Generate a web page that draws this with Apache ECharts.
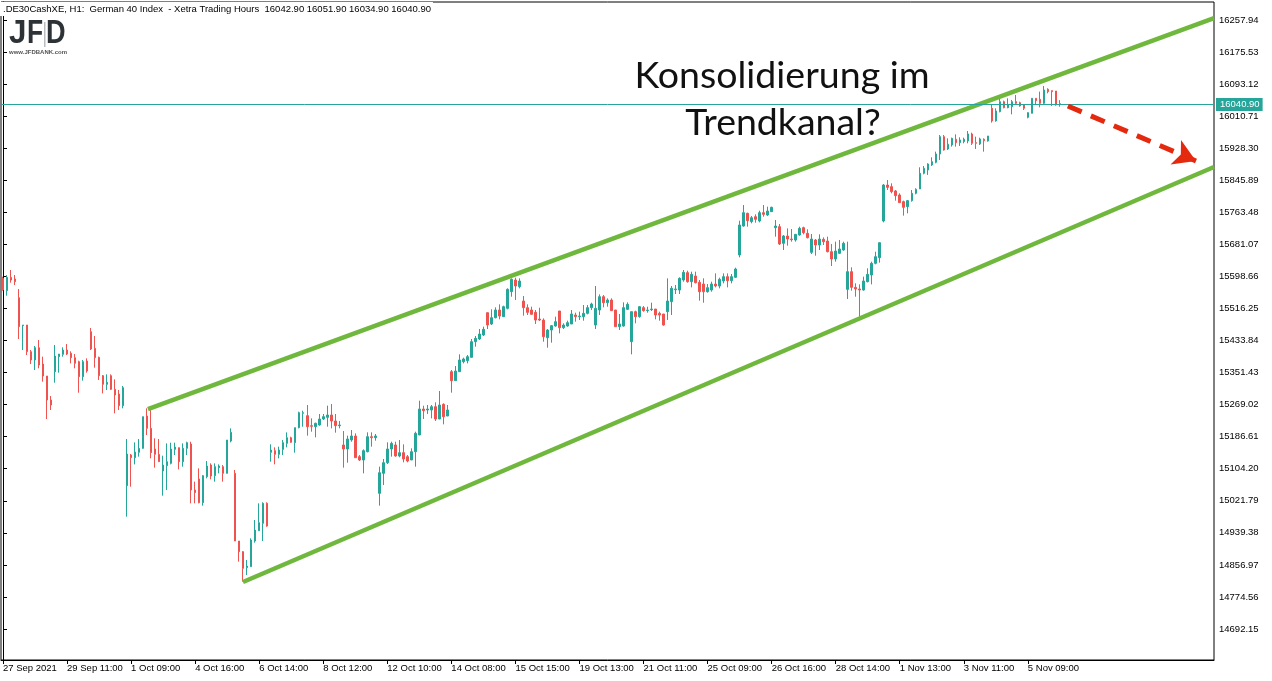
<!DOCTYPE html>
<html><head><meta charset="utf-8">
<script src="https://cdn.jsdelivr.net/npm/echarts@6/dist/echarts.min.js"></script>
<style>html,body{margin:0;padding:0;background:#fff}#c{width:1272px;height:681px}</style>
</head><body><div id="c"></div>
<script>
// ---- data (H1 candles) ----
const opens = [
15593.7,15562.0,15596.2,15592.0,15544.0,15472.0,15473.7,15405.1,15383.7,15415.4,
15373.4,15342.6,15280.9,15353.7,15392.3,15398.3,15409.4,15400.8,15389.7,15379.4,
15340.8,15381.1,15456.6,15413.7,15390.6,15343.4,15321.1,15343.4,15308.3,15296.3,
15266.3,15060.6,15139.4,15132.6,15146.3,15156.6,15239.7,15208.0,15154.9,15141.1,
15098.3,15112.0,15118.0,15154.0,15158.3,15122.3,15156.6,15167.7,15049.5,15077.8,
15016.9,15083.8,15113.7,15086.3,15106.9,15109.5,15092.3,15175.4,15092.3,14918.3,
14890.9,14849.8,14852.4,14918.3,14944.9,14963.8,15015.2,
15146.3,15150.6,15141.1,
15154.0,15169.4,15184.0,15171.2,15209.7,15246.6,15240.6,15214.9,15212.3,15216.6,
15232.0,15236.3,15242.3,15226.9,15214.9,15165.2,15154.9,15178.0,15188.3,15135.2,
15126.6,15148.0,15186.6,15184.0,15040.9,15092.3,15119.7,15154.9,15165.2,15136.9,
15145.5,15135.2,15126.6,15148.0,15190.9,15257.7,15255.2,15255.2,15263.7,15232.0,
15269.7,15239.7,15353.7,15330.6,15353.7,15379.4,15382.0,15390.6,15430.8,15437.7,
15448.0,15505.4,15476.3,15492.5,15512.3,15495.1,15516.5,15559.4,15589.4,15572.2,
15535.4,15518.2,15512.3,15506.2,15489.1,15486.5,15441.1,15460.8,15471.1,15509.7,
15466.8,15471.1,
15476.3,15499.4,15495.1,15495.1,15503.7,15518.3,15473.7,15512.3,
15546.5,15531.1,15538.0,15512.3,15469.4,15471.1,15514.0,15430.9,15508.0,15495.1,
15518.3,15510.6,15513.1,15514.8,15503.7,15502.0,15508.0,15533.7,15564.5,15563.7,
15589.4,15608.3,15585.1,15599.7,15583.4,15579.1,15559.4,15563.7,15579.1,15574.0,
15586.8,15598.0,15587.7,15596.3,15653.7,15728.2,15760.8,15739.4,15752.2,15741.1,
15762.5,15756.5,15765.1,15724.0,15726.5,15683.7,15702.5,15694.8,15692.2,15705.1,
15724.0,15709.4,15660.5,15692.2,15679.4,15694.0,15689.7,15662.2,15643.4,15658.0,
15666.5,15565.4,15610.8,15570.5,15566.3,15563.7,15585.1,15602.3,15632.3,15646.8,
15741.1,15833.6,
15829.5,15818.3,15808.0,15790.9,15778.0,15793.5,15812.3,15823.5,
15863.7,15872.3,15885.2,15892.0,15913.4,15958.0,15926.3,15936.6,15951.2,15942.6,
15945.2,15946.9,15964.9,15942.6,15939.2,15951.2,15946.9,16030.9,15998.3,16022.3,
16048.0,16032.6,16035.1,16048.0,16045.4,16039.4,16007.7,16018.0,16056.6,16054.0,
16043.7,16079.7,16076.3,16075.4,16042.9
];
const highs = [
15598.0,15602.2,15615.1,15602.2,15566.2,15473.7,15473.7,15409.4,15419.7,15435.1,
15392.3,15342.6,15291.1,15422.3,15399.1,15416.3,15424.8,15406.0,15399.1,15382.0,
15383.7,15388.0,15466.0,15445.4,15392.3,15345.1,15346.8,15346.8,15334.0,15306.6,
15316.9,15180.6,15142.0,15172.0,15180.6,15238.0,15259.5,15263.7,15182.3,15180.6,
15137.7,15169.4,15171.2,15171.2,15158.3,15169.4,15173.7,15173.7,15070.9,15105.2,
15088.0,15124.0,15118.0,15118.0,15115.4,15113.7,15178.0,15208.0,15100.9,14918.3,
14892.6,14869.5,14925.2,14972.3,15015.2,15017.8,15017.8,
15166.9,15159.2,15160.9,
15178.0,15197.7,15186.6,15209.7,15250.9,15253.4,15268.0,15233.7,15222.6,15244.9,
15244.9,15266.3,15270.6,15244.9,15226.9,15201.1,15189.2,15203.7,15195.2,15139.4,
15154.0,15197.7,15197.7,15193.4,15109.5,15129.2,15172.0,15173.7,15173.7,15178.0,
15166.9,15139.4,15156.6,15199.4,15279.1,15266.3,15268.0,15268.0,15274.9,15304.0,
15272.3,15268.0,15358.0,15368.3,15398.3,15389.7,15396.6,15437.7,15445.4,15463.4,
15469.4,15505.4,15514.0,15519.1,15526.8,15523.4,15568.0,15593.7,15595.4,15593.7,
15548.2,15526.8,15520.8,15512.3,15518.2,15490.8,15463.4,15473.7,15495.1,15509.7,
15478.0,15484.8,
15512.3,15505.4,15508.0,15525.1,15525.1,15531.1,15574.0,15552.5,
15550.8,15542.3,15542.3,15512.3,15502.0,15532.0,15532.0,15508.0,15510.6,15522.5,
15522.5,15520.8,15531.1,15514.8,15508.0,15502.0,15593.7,15574.0,15576.5,15596.3,
15615.1,15613.4,15610.8,15610.8,15589.4,15593.7,15579.1,15585.1,15606.5,15595.4,
15606.5,15606.5,15604.8,15621.1,15741.9,15782.2,15762.5,15754.0,15758.2,15767.7,
15782.2,15778.0,15778.0,15743.7,15733.4,15705.1,15722.2,15720.5,15707.7,15726.5,
15726.5,15719.7,15707.7,15694.8,15706.8,15699.1,15700.8,15682.0,15688.0,15692.2,
15688.0,15688.0,15622.0,15580.8,15578.2,15598.0,15619.4,15636.5,15662.2,15685.4,
15836.2,15846.5,
15838.0,15820.9,15812.3,15793.5,15795.2,15820.9,15825.2,15879.2,
15882.6,15889.5,15904.9,15919.4,15962.3,15962.3,15953.7,15955.4,15964.0,15956.3,
15955.4,15972.6,15968.3,15958.0,15955.4,15953.7,15959.7,16041.1,16030.9,16056.6,
16050.6,16056.6,16052.3,16065.1,16048.0,16041.1,16020.6,16056.6,16056.6,16073.7,
16088.3,16082.3,16076.3,16075.4,16051.9
];
const lows = [
15562.0,15549.1,15582.5,15576.5,15437.7,15409.4,15396.6,15373.4,15358.0,15362.3,
15328.0,15232.0,15255.2,15325.4,15351.1,15392.3,15396.6,15375.1,15362.3,15299.7,
15330.6,15351.1,15409.4,15364.0,15332.3,15298.0,15306.6,15306.6,15246.6,15255.2,
15259.5,14980.9,15058.0,15115.4,15135.2,15155.7,15190.9,15130.9,15106.9,15122.3,
15034.9,15049.5,15115.4,15139.4,15102.6,15109.5,15139.4,15015.2,15015.2,15015.2,
15009.2,15079.5,15076.9,15070.9,15092.3,15070.9,15092.3,15172.0,14918.3,14865.2,
14813.8,14830.9,14852.4,14914.0,14944.9,14918.3,14955.2,
15122.3,15115.4,15130.9,
15139.4,15159.2,15171.2,15145.5,15208.0,15212.3,15189.2,15199.4,15184.9,15214.9,
15229.4,15212.3,15208.0,15196.9,15208.0,15106.9,15119.7,15173.7,15132.6,15124.0,
15092.3,15146.3,15160.9,15176.3,15009.2,15062.3,15116.3,15135.2,15135.2,15133.5,
15120.6,15120.6,15126.6,15109.5,15190.9,15232.0,15244.9,15233.7,15226.9,15232.0,
15218.3,15239.7,15299.7,15330.6,15353.7,15375.1,15375.1,15390.6,15418.0,15435.1,
15445.4,15463.4,15473.7,15490.8,15488.3,15495.1,15514.0,15546.5,15538.0,15568.0,
15497.7,15499.4,15501.1,15476.3,15483.9,15430.8,15415.4,15428.3,15469.4,15452.3,
15463.4,15469.4,
15476.3,15482.3,15486.6,15484.8,15501.1,15512.3,15463.4,15499.4,
15519.1,15520.8,15510.6,15469.4,15460.9,15469.4,15512.3,15398.3,15478.0,15492.5,
15508.0,15505.4,15509.7,15488.3,15484.8,15472.0,15486.6,15499.4,15553.4,15553.4,
15585.1,15582.5,15570.5,15580.8,15536.3,15531.1,15556.8,15559.4,15570.5,15568.0,
15580.8,15570.5,15580.8,15595.4,15647.7,15726.5,15726.5,15735.1,15736.8,15737.7,
15752.2,15753.9,15765.1,15700.8,15679.4,15666.5,15677.7,15688.0,15688.0,15703.4,
15706.8,15696.5,15656.2,15651.9,15666.5,15679.4,15660.5,15625.4,15636.5,15656.2,
15664.8,15540.5,15562.0,15546.5,15495.1,15562.0,15583.4,15578.2,15629.7,15634.0,
15737.7,15820.8,
15812.3,15793.5,15788.3,15754.9,15760.9,15790.9,15809.7,15823.5,
15861.2,15859.5,15882.6,15889.5,15898.0,15922.0,15923.7,15932.3,15932.3,15934.0,
15940.9,15940.9,15936.6,15926.3,15936.6,15919.4,15945.2,15994.0,15996.6,16020.6,
16030.9,16030.9,16015.4,16039.4,16035.1,16026.6,16005.1,16018.0,16039.4,16033.4,
16042.0,16069.4,16036.9,16037.7,16034.9
];
const closes = [
15563.7,15596.2,15589.4,15585.1,15469.4,15473.7,15405.1,15383.7,15415.4,15370.8,
15342.6,15280.9,15268.0,15394.0,15399.1,15409.4,15399.1,15389.7,15375.1,15340.8,
15379.4,15355.4,15412.0,15389.7,15343.4,15321.1,15326.3,15308.3,15293.7,15266.3,
15312.6,15142.0,15132.6,15147.2,15156.6,15238.0,15208.0,15145.5,15141.1,15122.3,
15113.7,15122.3,15154.9,15160.0,15122.3,15156.6,15171.2,15049.5,15042.6,15016.9,
15086.3,15111.2,15085.5,15109.5,15111.2,15092.3,15178.0,15197.7,14918.3,14890.9,
14848.0,14854.0,14920.9,14946.6,14965.5,15015.2,14956.9,
15152.3,15141.1,15152.3,
15171.2,15184.0,15172.0,15209.7,15248.3,15248.3,15212.3,15213.2,15220.9,15232.0,
15238.0,15242.3,15226.9,15214.9,15216.6,15154.9,15180.6,15188.3,15132.6,15126.6,
15150.6,15186.6,15184.0,15188.3,15094.0,15119.7,15154.9,15169.4,15136.9,15145.5,
15129.2,15124.0,15148.0,15195.2,15257.7,15253.4,15257.7,15263.7,15232.0,15268.0,
15238.0,15255.2,15330.6,15355.4,15383.7,15386.3,15392.3,15430.8,15439.4,15450.5,
15462.5,15473.7,15492.5,15512.3,15496.8,15520.8,15565.4,15591.1,15574.0,15586.8,
15518.2,15506.2,15501.1,15486.5,15486.5,15443.7,15460.8,15472.0,15482.3,15466.8,
15473.7,15479.7,
15502.0,15495.1,15496.8,15503.7,15518.3,15527.7,15516.6,15546.5,
15531.1,15538.0,15510.6,15469.4,15476.3,15518.3,15526.8,15508.0,15495.1,15520.8,
15510.6,15512.3,15514.8,15499.4,15499.4,15473.7,15535.4,15568.0,15566.3,15593.7,
15609.1,15585.1,15604.0,15582.5,15559.4,15559.4,15569.7,15579.1,15574.0,15591.1,
15598.0,15587.7,15598.0,15617.7,15730.8,15762.5,15742.0,15749.7,15745.4,15762.5,
15758.2,15766.8,15776.2,15728.2,15682.0,15702.5,15694.8,15693.1,15706.8,15722.2,
15711.1,15698.2,15694.8,15679.4,15694.8,15688.0,15662.2,15643.4,15663.9,15669.1,
15683.7,15610.8,15570.5,15566.3,15563.7,15586.8,15604.0,15632.3,15649.4,15685.4,
15833.6,15827.6,
15816.6,15806.3,15788.3,15776.3,15793.5,15812.3,15822.6,15863.7,
15876.6,15887.7,15893.7,15913.4,15958.0,15923.7,15938.3,15953.7,15942.6,15949.5,
15951.2,15964.9,15940.9,15940.9,15952.0,15947.7,15959.7,15998.3,16024.0,16048.0,
16032.6,16039.4,16048.0,16043.7,16036.9,16030.9,16019.7,16056.6,16050.6,16043.7,
16078.0,16073.7,16073.7,16039.4,16040.9
];
const xLabels = ['27 Sep 2021','29 Sep 11:00','1 Oct 09:00','4 Oct 16:00','6 Oct 14:00','8 Oct 12:00',
  '12 Oct 10:00','14 Oct 08:00','15 Oct 15:00','19 Oct 13:00','21 Oct 11:00','25 Oct 09:00',
  '26 Oct 16:00','28 Oct 14:00','1 Nov 13:00','3 Nov 11:00','5 Nov 09:00'];
const labelStep = 16;          // bars between time labels
const slotCount = 303;         // bar slots visible on the time axis
const yTicks = [16257.94,16175.53,16093.12,16010.71,15928.30,15845.89,15763.48,15681.07,15598.66,
  15516.25,15433.84,15351.43,15269.02,15186.61,15104.20,15021.79,14939.38,14856.97,14774.56,14692.15];
const yMin = 14612.4, yMax = 16304.2;
const lastPrice = 16040.90;
// annotation lines, in [bar index, price]
const upperChannel = [[36.2, 15257.7], [302.5, 16262.8]];
const lowerChannel = [[59.95, 14812.9], [302.5, 15880.0]];
const arrowPath = [[266.0, 16036.8], [298.0, 15895.4]];
const headerText = '.DE30CashXE, H1:  German 40 Index  - Xetra Trading Hours  16042.90 16051.90 16034.90 16040.90';
const titleLines = ['Konsolidierung im', 'Trendkanal?'];

// ---- chart ----
const AX_FONT = '"Liberation Sans",Arial,sans-serif';
const LOGO_FONT = 'bold 33px "Liberation Sans",sans-serif';
const cats = Array.from({length: slotCount}, (_, i) => String(i));
const candles = opens.map((o, i) => [o, closes[i], lows[i], highs[i]]);
const showTick = (i) => i % labelStep === 0 && i / labelStep < xLabels.length;

const chart = echarts.init(document.getElementById('c'), null, {renderer: 'canvas'});
chart.setOption({
  animation: false,
  backgroundColor: '#fff',
  grid: {left: 1, top: 2, right: 58, bottom: 21, show: true, borderColor: '#000', borderWidth: 1},
  xAxis: [{
    type: 'category', data: cats, boundaryGap: true,
    axisLine: {show: true, lineStyle: {color: '#000', width: 1}},
    axisTick: {show: true, interval: (i) => showTick(i), alignWithLabel: true, length: 4, lineStyle: {color: '#000'}},
    axisLabel: {interval: (i) => showTick(i), formatter: (v) => { const i = +v; return showTick(i) ? xLabels[i / labelStep] : ''; },
      align: 'left', margin: 3, fontSize: 9.5, color: '#000', fontFamily: AX_FONT},
    splitLine: {show: false}
  }, {
    type: 'value', min: -0.5, max: slotCount - 0.5, show: false
  }],
  yAxis: {
    type: 'value', position: 'right', min: yMin, max: yMax, scale: true,
    axisLine: {show: true, lineStyle: {color: '#000', width: 1}},
    axisTick: {show: true, customValues: yTicks, length: 4, lineStyle: {color: '#000'}},
    axisLabel: {customValues: yTicks, formatter: (v) => v.toFixed(2), fontSize: 9.5, color: '#000', margin: 5, fontFamily: AX_FONT},
    splitLine: {show: false}
  },
  series: [{
    type: 'candlestick', xAxisIndex: 0, data: candles, barWidth: 2, silent: true,
    itemStyle: {color: '#26a69a', color0: '#ef5350', borderColor: '#26a69a', borderColor0: '#ef5350', borderWidth: 1},
    markLine: {
      silent: true, symbol: 'none', animation: false,
      data: [{yAxis: lastPrice}],
      lineStyle: {color: '#26a69a', width: 1, type: 'solid'},
      label: {show: true, position: 'end', formatter: lastPrice.toFixed(2), color: '#fff', backgroundColor: '#26a69a',
        padding: [2, 3, 1, 4], fontSize: 9.5, fontFamily: AX_FONT, distance: 2}
    }
  }, {
    type: 'line', xAxisIndex: 1, data: upperChannel, symbol: 'none', silent: true,
    lineStyle: {color: '#6fb83d', width: 4.5},
    markLine: {
      silent: true, animation: false, symbol: ['none', 'arrow'], symbolSize: [20, 22],
      data: [[{coord: arrowPath[0]}, {coord: arrowPath[1]}]],
      lineStyle: {color: '#e5290e', width: 5, type: [15, 10]},
      label: {show: false}, emphasis: {disabled: true}
    }
  }, {
    type: 'line', xAxisIndex: 1, data: lowerChannel, symbol: 'none', silent: true,
    lineStyle: {color: '#6fb83d', width: 4.5}
  }],
  graphic: [
    {type: 'text', x: 0, y: 2, z: 100, style: {text: headerText, font: '9.5px ' + AX_FONT, fill: '#000',
      backgroundColor: '#fff', padding: [2, 2, 2, 3]}},
    {type: 'text', x: 9, y: 34, z: 100, scaleX: 0.95, style: {text: 'J', font: LOGO_FONT, fill: '#2d3237', textVerticalAlign: 'middle'}},
    {type: 'text', x: 27, y: 34, z: 100, scaleX: 0.8, style: {text: 'F', font: LOGO_FONT, fill: '#2d3237', textVerticalAlign: 'middle'}},
    {type: 'rect', z: 100, shape: {x: 44, y: 22, width: 1.5, height: 25}, style: {fill: '#b8bcc0'}},
    {type: 'text', x: 46, y: 34, z: 100, scaleX: 0.82, style: {text: 'D', font: LOGO_FONT, fill: '#2d3237', textVerticalAlign: 'middle'}},
    {type: 'text', x: 9, y: 52, z: 100, style: {text: 'www.JFDBANK.com', font: 'bold 6px "Liberation Sans",sans-serif', fill: '#555', textVerticalAlign: 'middle'}},
    {type: 'text', x: 782, y: 76, z: 100, style: {text: titleLines[0], font: '37.5px Lato,"Noto Sans",sans-serif', fill: '#111', textAlign: 'center', textVerticalAlign: 'middle'}},
    {type: 'text', x: 783, y: 123, z: 100, style: {text: titleLines[1], font: '37.5px Lato,"Noto Sans",sans-serif', fill: '#111', textAlign: 'center', textVerticalAlign: 'middle'}}
  ]
});
</script>
</body></html>
